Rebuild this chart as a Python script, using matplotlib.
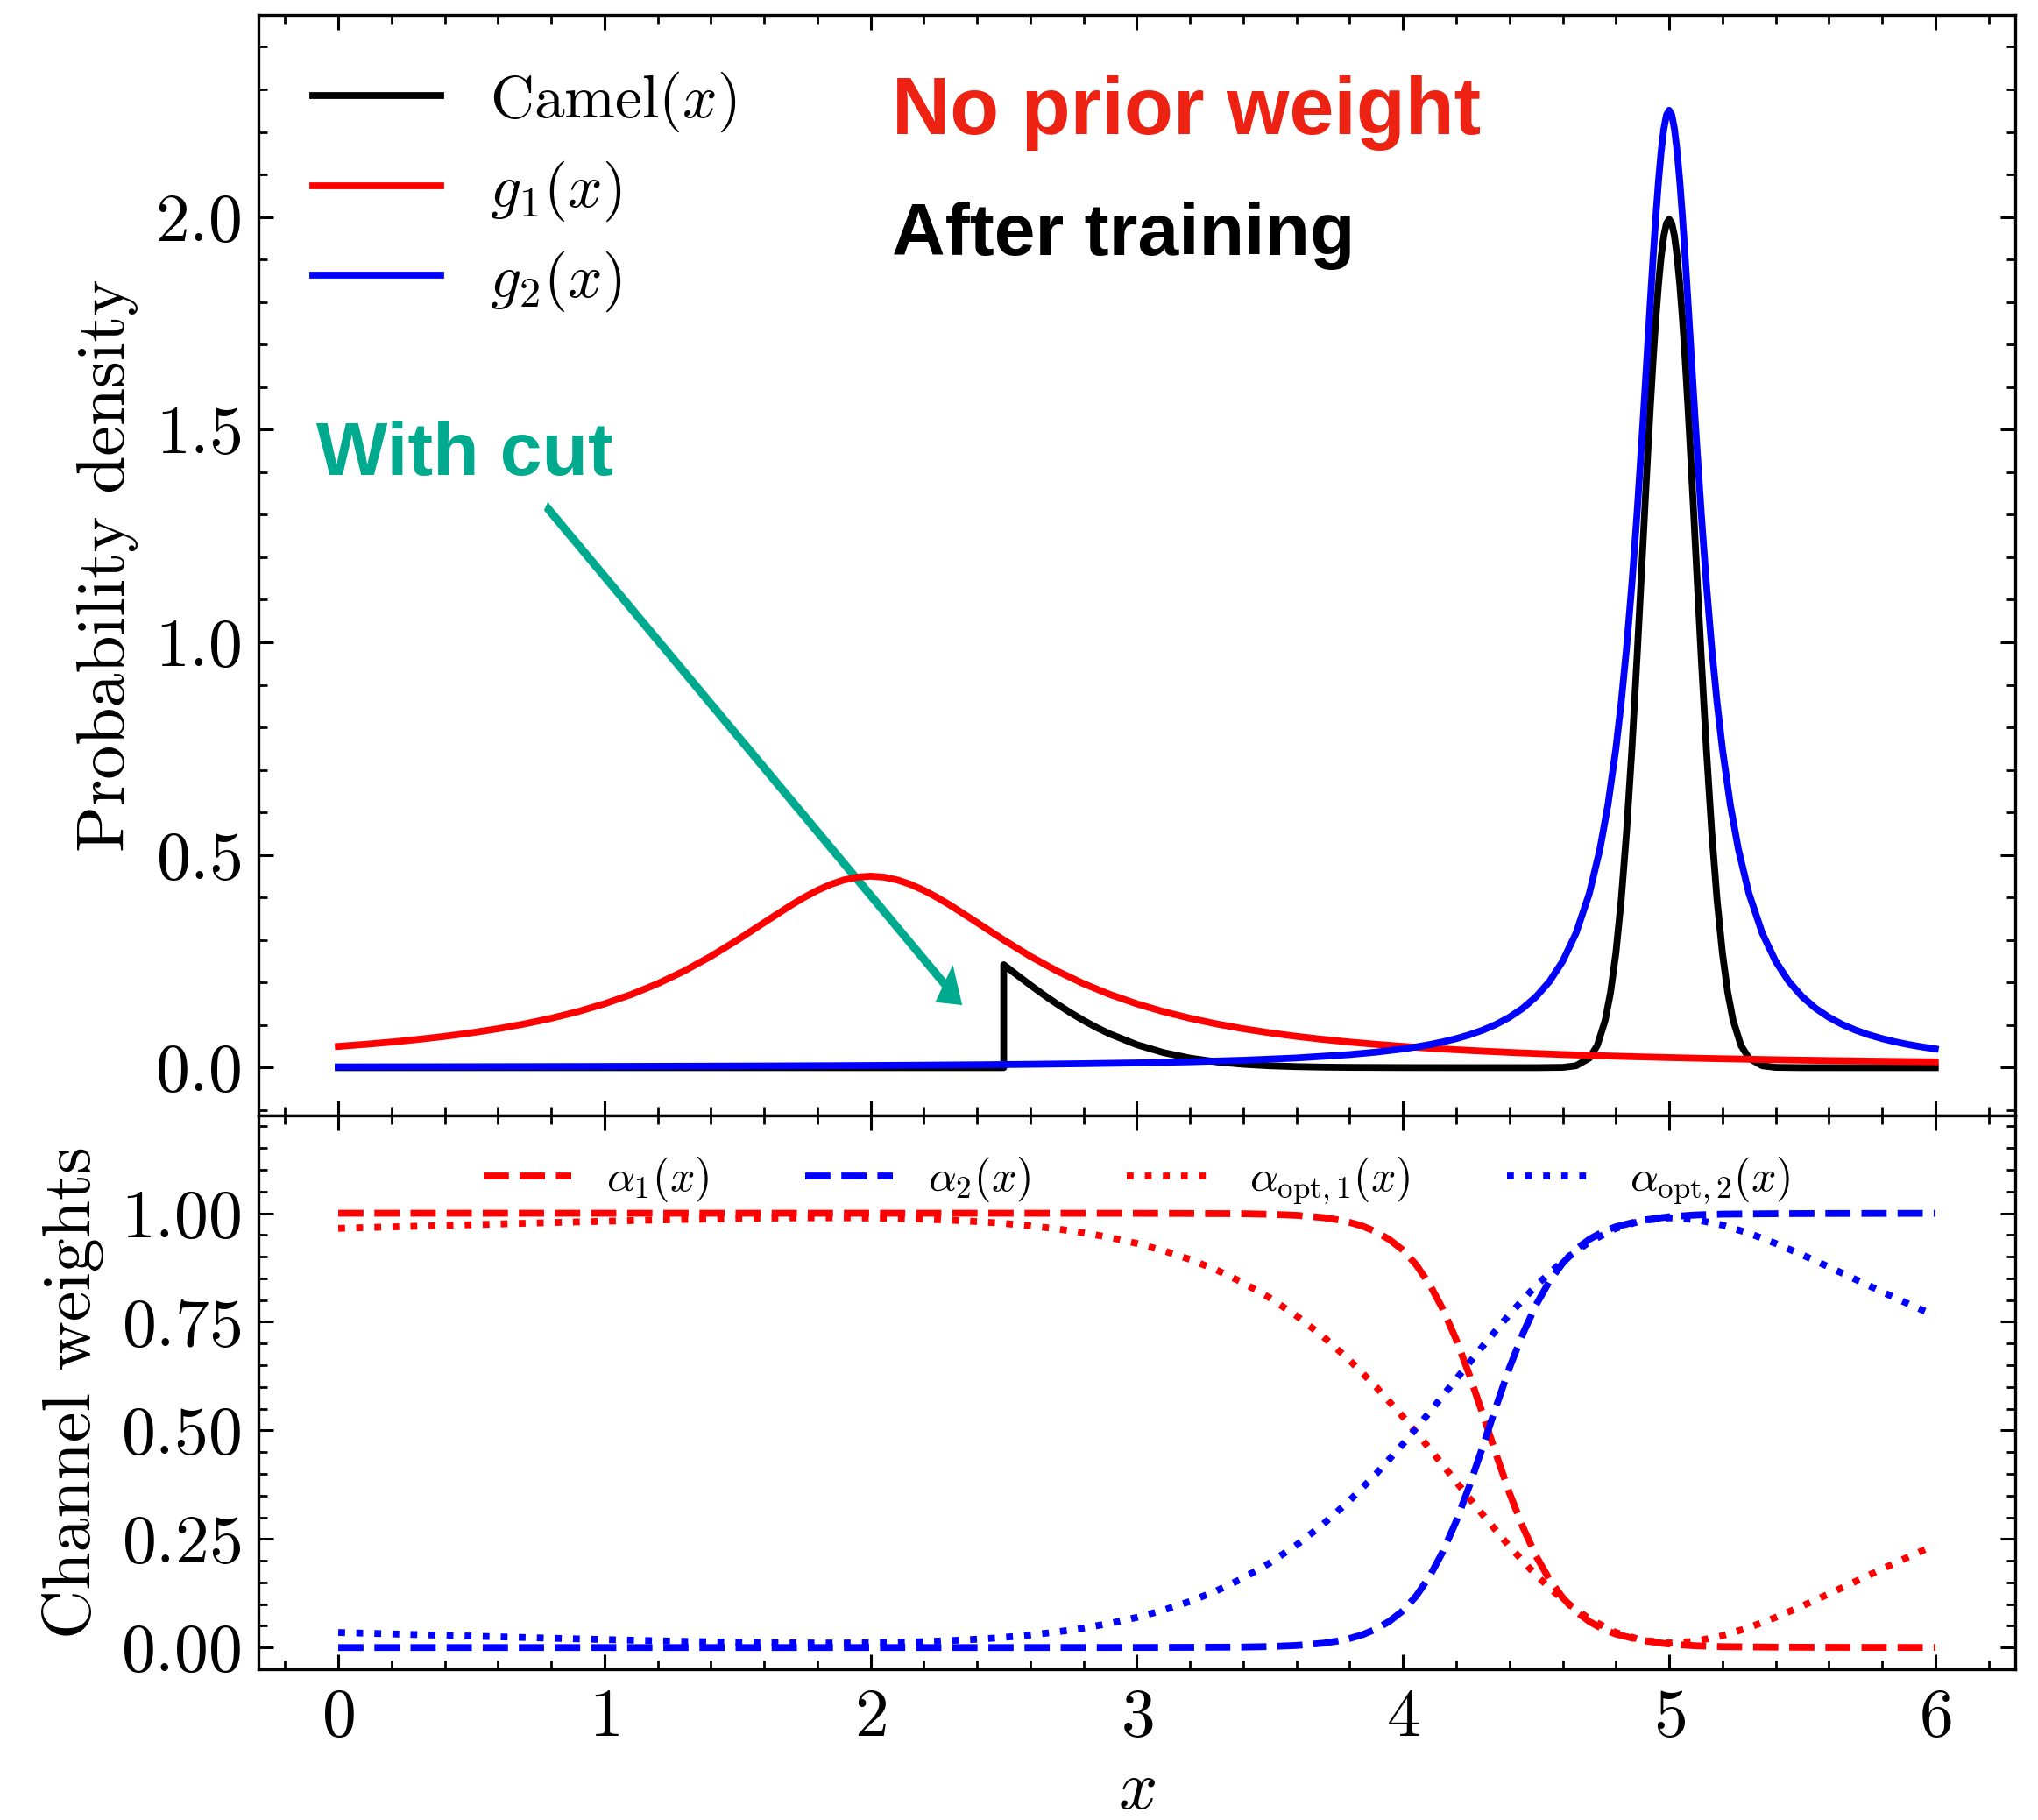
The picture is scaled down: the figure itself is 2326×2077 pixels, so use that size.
import matplotlib
matplotlib.use("Agg")
import matplotlib.pyplot as plt
from matplotlib.ticker import MultipleLocator

# ---------------- data ----------------
# grid for the optimal channel weights
x_grid = [0.0, 0.1, 0.2, 0.3, 0.4, 0.5, 0.6, 0.7, 0.8, 0.9,
          1.0, 1.1, 1.2, 1.3, 1.4, 1.5, 1.6, 1.7, 1.8, 1.9,
          2.0, 2.1, 2.2, 2.3, 2.4, 2.5, 2.6, 2.7, 2.8, 2.9,
          3.0, 3.1, 3.2, 3.3, 3.4, 3.5, 3.6, 3.7, 3.8, 3.9,
          4.0, 4.1, 4.2, 4.3, 4.4, 4.5, 4.6, 4.7, 4.8, 4.9,
          5.0, 5.1, 5.2, 5.3, 5.4, 5.5, 5.6, 5.7, 5.8, 5.9, 6.0]

x_g1 = [0.0, 0.1, 0.2, 0.3, 0.4, 0.5, 0.6, 0.7, 0.8, 0.9,
        1.0, 1.1, 1.2, 1.3, 1.4, 1.5, 1.6, 1.7, 1.75, 1.8, 1.85, 1.9, 1.95,
        2.0, 2.05, 2.1, 2.15, 2.2, 2.25, 2.3, 2.4, 2.5, 2.6, 2.7, 2.8, 2.9,
        3.0, 3.1, 3.2, 3.3, 3.4, 3.5, 3.6, 3.7, 3.8, 3.9,
        4.0, 4.1, 4.2, 4.3, 4.4, 4.5, 4.6, 4.7, 4.8, 4.9,
        5.0, 5.1, 5.2, 5.3, 5.4, 5.5, 5.6, 5.7, 5.8, 5.9, 6.0]
g1_vals = [0.05002, 0.05477, 0.06019, 0.06640, 0.07356, 0.08185, 0.09150, 0.10279, 0.11603, 0.13164,
           0.15007, 0.17183, 0.19746, 0.22737, 0.26174, 0.30013, 0.34106, 0.38153, 0.40018, 0.41685,
           0.43081, 0.44137, 0.44796,
           0.45020, 0.44796, 0.44137, 0.43081, 0.41685, 0.40018, 0.38153, 0.34106, 0.30013, 0.26174,
           0.22737, 0.19746, 0.17183,
           0.15007, 0.13164, 0.11603, 0.10279, 0.09150, 0.08185, 0.07356, 0.06640, 0.06019, 0.05477,
           0.05002, 0.04585, 0.04215, 0.03888, 0.03596, 0.03335, 0.03101, 0.02890, 0.02699, 0.02526,
           0.02369, 0.02227, 0.02096, 0.01976, 0.01866, 0.01765, 0.01672, 0.01586, 0.01507, 0.01433, 0.01364]

x_g2 = [0.0, 0.2, 0.4, 0.6, 0.8, 1.0, 1.2, 1.4, 1.6, 1.8, 2.0, 2.2, 2.4, 2.6, 2.8,
        3.0, 3.2, 3.4, 3.6, 3.8, 3.9, 4.0, 4.05, 4.1, 4.15, 4.2, 4.25, 4.3, 4.35, 4.4, 4.45,
        4.5, 4.55, 4.6, 4.65, 4.7, 4.74, 4.77, 4.8, 4.82, 4.84, 4.86, 4.88,
        4.9, 4.91, 4.92, 4.93, 4.94, 4.95, 4.96, 4.97, 4.98, 4.99, 5.0,
        5.01, 5.02, 5.03, 5.04, 5.05, 5.06, 5.07, 5.08, 5.09, 5.1,
        5.12, 5.14, 5.16, 5.18, 5.2, 5.23, 5.26, 5.3, 5.35, 5.4, 5.45, 5.5,
        5.55, 5.6, 5.65, 5.7, 5.75, 5.8, 5.85, 5.9, 5.95, 6.0]
g2_vals = [0.001799, 0.001952, 0.002125, 0.002323, 0.002549, 0.002810, 0.003113, 0.003468, 0.003887,
           0.004388, 0.004991, 0.005727, 0.006640, 0.007788, 0.009263,
           0.011198, 0.013809, 0.017448, 0.022735, 0.030833, 0.036598, 0.044133, 0.04880, 0.054236,
           0.06063, 0.068206, 0.07728, 0.088267, 0.10173, 0.118463, 0.13958,
           0.16673, 0.20232, 0.25009, 0.31590, 0.40924, 0.51388, 0.61751, 0.75027, 0.85908, 0.98719,
           1.13677, 1.30860,
           1.50053, 1.60199, 1.70515, 1.80787, 1.90746, 2.00071, 2.08407, 2.15388, 2.20667, 2.23960, 2.25080,
           2.23960, 2.20667, 2.15388, 2.08407, 2.00071, 1.90746, 1.80787, 1.70515, 1.60199, 1.50053,
           1.30860, 1.13677, 0.98719, 0.85908, 0.75027, 0.61751, 0.51388, 0.40924, 0.31590, 0.25009,
           0.20232, 0.16673,
           0.13958, 0.118463, 0.10173, 0.088267, 0.07728, 0.068206, 0.06063, 0.054236, 0.04880, 0.044133]

x_camel = [0.0, 2.5, 2.5, 2.55, 2.6, 2.65, 2.7, 2.75, 2.8, 2.85, 2.9, 3.0, 3.1, 3.2, 3.3, 3.4,
           3.5, 3.6, 3.7, 3.8, 4.0, 4.2, 4.5, 4.6, 4.65, 4.7, 4.73, 4.76, 4.78, 4.8, 4.82, 4.84,
           4.86, 4.88, 4.9, 4.91, 4.92, 4.93, 4.94, 4.95, 4.96, 4.97, 4.98, 4.99, 5.0,
           5.01, 5.02, 5.03, 5.04, 5.05, 5.06, 5.07, 5.08, 5.09, 5.1,
           5.12, 5.14, 5.16, 5.18, 5.2, 5.22, 5.24, 5.27, 5.3, 5.35, 5.4, 5.5, 6.0]
camel_vals = [0.0, 0.0, 0.24197, 0.21785, 0.19419, 0.17137, 0.14973, 0.12952, 0.11092, 0.09405,
              0.07895, 0.05399, 0.03547, 0.02239, 0.01358, 0.00792,
              0.00443, 0.00239, 0.00123, 0.00061, 0.00013, 0.00002, 0.0, 0.00067, 0.00436, 0.02216,
              0.05211, 0.11197, 0.17737, 0.26996, 0.39475, 0.55461,
              0.74864, 0.97093, 1.20985, 1.33043, 1.44846, 1.56126, 1.66612, 1.76033, 1.84136,
              1.90694, 1.95522, 1.98476, 1.99471,
              1.98476, 1.95522, 1.90694, 1.84136, 1.76033, 1.66612, 1.56126, 1.44846, 1.33043, 1.20985,
              0.97093, 0.74864, 0.55461, 0.39475, 0.26996, 0.17737, 0.11197, 0.05211, 0.02216,
              0.00436, 0.00067, 0.0, 0.0]

# trained channel weights
x_alpha = [0.0, 0.5, 1.0, 1.5, 2.0, 2.5, 3.0, 3.2, 3.4, 3.5, 3.6, 3.7, 3.75, 3.8, 3.85,
           3.9, 3.95, 4.0, 4.05, 4.1, 4.15, 4.2, 4.25, 4.3, 4.35, 4.4, 4.45, 4.5, 4.55,
           4.6, 4.65, 4.7, 4.75, 4.8, 4.9, 5.0, 5.1, 5.2, 5.4, 5.6, 6.0]
alpha1_vals = [1.0, 1.0, 1.0, 1.0, 1.0, 1.0, 0.9998, 0.9995, 0.9989, 0.9977, 0.9952, 0.990, 0.9855,
               0.979, 0.970, 0.957, 0.939, 0.915, 0.881, 0.836, 0.779, 0.709, 0.627, 0.537, 0.445,
               0.356, 0.278, 0.211, 0.157, 0.115, 0.083, 0.060, 0.043, 0.031, 0.016, 0.008, 0.004,
               0.002, 0.001, 0.0005, 0.0002]
alpha2_vals = [0.0, 0.0, 0.0, 0.0, 0.0, 0.0, 0.0002, 0.0005, 0.0011, 0.0023, 0.0048, 0.010, 0.0145,
               0.021, 0.030, 0.043, 0.061, 0.085, 0.119, 0.164, 0.221, 0.291, 0.373, 0.463, 0.555,
               0.644, 0.722, 0.789, 0.843, 0.885, 0.917, 0.940, 0.957, 0.969, 0.984, 0.992, 0.996,
               0.998, 0.999, 0.9995, 0.9998]

# optimal channel weights (on x_grid)
alpha_opt1_vals = [0.96528, 0.96693, 0.96859, 0.97025, 0.97192, 0.97358, 0.97524, 0.97689, 0.97850, 0.98008,
                   0.98162, 0.98309, 0.98448, 0.98577, 0.98692, 0.98792, 0.98873, 0.98930, 0.98958, 0.98952,
                   0.98904, 0.98805, 0.98645, 0.98412, 0.98090, 0.97664, 0.97111, 0.96405, 0.95519, 0.94416,
                   0.93056, 0.91391, 0.89365, 0.86919, 0.83985, 0.80497, 0.76390, 0.71610, 0.66126, 0.59944,
                   0.53127, 0.45811, 0.38194, 0.30579, 0.23287, 0.16669, 0.11032, 0.06596, 0.03472, 0.01656,
                   0.01042, 0.01462, 0.02718, 0.04606, 0.06943, 0.09573, 0.12369, 0.15231, 0.18097, 0.20900,
                   0.23609]
alpha_opt2_vals = [0.03472, 0.03307, 0.03141, 0.02975, 0.02808, 0.02642, 0.02476, 0.02311, 0.02150, 0.01992,
                   0.01838, 0.01691, 0.01552, 0.01423, 0.01308, 0.01208, 0.01127, 0.01070, 0.01042, 0.01048,
                   0.01096, 0.01195, 0.01355, 0.01588, 0.01910, 0.02336, 0.02889, 0.03595, 0.04481, 0.05584,
                   0.06944, 0.08609, 0.10635, 0.13081, 0.16015, 0.19503, 0.23610, 0.28390, 0.33874, 0.40056,
                   0.46873, 0.54189, 0.61806, 0.69421, 0.76713, 0.83331, 0.88968, 0.93404, 0.96528, 0.98344,
                   0.98958, 0.98538, 0.97282, 0.95394, 0.93057, 0.90427, 0.87631, 0.84769, 0.81903, 0.79100,
                   0.76391]

# ---------------- style ----------------
plt.rcParams.update({
    'font.family': 'serif',
    'font.serif': ['cmr10'],
    'mathtext.fontset': 'cm',
    'axes.formatter.use_mathtext': True,
    'axes.unicode_minus': False,
    'xtick.direction': 'in', 'ytick.direction': 'in',
    'xtick.top': True, 'ytick.right': True,
    'xtick.minor.visible': True, 'ytick.minor.visible': True,
    'xtick.major.size': 6, 'ytick.major.size': 6,
    'xtick.minor.size': 3.5, 'ytick.minor.size': 3.5,
    'xtick.major.width': 1.1, 'ytick.major.width': 1.1,
    'xtick.minor.width': 1.0, 'ytick.minor.width': 1.0,
    'xtick.labelsize': 28, 'ytick.labelsize': 28,
    'xtick.major.pad': 8, 'ytick.major.pad': 7,
    'axes.linewidth': 1.2,
})

LW = 2.8
TEAL = '#00AA8E'
fig = plt.figure(figsize=(11.63, 10.385), dpi=200)
gs = fig.add_gridspec(2, 1, height_ratios=[1256, 632], hspace=0,
                      left=0.1268, right=0.9888, top=0.9918, bottom=0.0828)
ax1 = fig.add_subplot(gs[0])
ax2 = fig.add_subplot(gs[1], sharex=ax1)

# ---- top panel ----
ax1.plot(x_camel, camel_vals, color='black', lw=LW, label=r'$\mathrm{Camel}(x)$')
ax1.plot(x_g1, g1_vals, color='red', lw=LW, label=r'$g_1(x)$')
ax1.plot(x_g2, g2_vals, color='blue', lw=LW, label=r'$g_2(x)$')
ax1.set_xlim(-0.3, 6.3)
ax1.set_ylim(-0.1125, 2.475)
ax1.xaxis.set_major_locator(MultipleLocator(1))
ax1.xaxis.set_minor_locator(MultipleLocator(0.2))
ax1.yaxis.set_major_locator(MultipleLocator(0.5))
ax1.yaxis.set_minor_locator(MultipleLocator(0.1))
plt.setp(ax1.get_xticklabels(), visible=False)
ax1.set_ylabel('Probability density', fontsize=28, labelpad=7)
ax1.legend(loc='upper left', frameon=False, fontsize=25, handlelength=2.1,
           handletextpad=0.8, labelspacing=0.42)

ax1.text(0.3606, 0.892, 'No prior weight', transform=ax1.transAxes, color='#ED2213',
         fontsize=33, fontweight='bold', family='Liberation Sans', va='baseline', ha='left')
ax1.text(0.3606, 0.782, 'After training', transform=ax1.transAxes, color='black',
         fontsize=30.3, fontweight='bold', family='Liberation Sans', va='baseline', ha='left')
ax1.text(0.0327, 0.5824, 'With cut', transform=ax1.transAxes, color=TEAL,
         fontsize=31, fontweight='bold', family='Liberation Sans', va='baseline', ha='left')
ax1.arrow(0.78, 1.32, 2.344 - 0.78, 0.147 - 1.32, width=0.024, head_width=0.11,
          head_length=0.085, length_includes_head=True, color=TEAL, lw=0)

# ---- bottom panel ----
ax2.plot(x_alpha, alpha1_vals, color='red', lw=LW, ls='--', label=r'$\alpha_1(x)$')
ax2.plot(x_alpha, alpha2_vals, color='blue', lw=LW, ls='--', label=r'$\alpha_2(x)$')
ax2.plot(x_grid, alpha_opt1_vals, color='red', lw=LW, ls=':',
         label=r'$\alpha_{\mathrm{opt},1}(x)$')
ax2.plot(x_grid, alpha_opt2_vals, color='blue', lw=LW, ls=':',
         label=r'$\alpha_{\mathrm{opt},2}(x)$')
ax2.set_ylim(-0.05, 1.225)
ax2.yaxis.set_major_locator(MultipleLocator(0.25))
ax2.yaxis.set_minor_locator(MultipleLocator(0.05))
ax2.set_ylabel('Channel weights', fontsize=28, labelpad=7)
ax2.set_xlabel(r'$x$', fontsize=28, labelpad=5)
ax2.legend(ncol=4, loc='upper center', frameon=False, fontsize=18, handlelength=2.0,
           columnspacing=2.2, handletextpad=0.8)

fig.savefig('out.png', dpi=200)
